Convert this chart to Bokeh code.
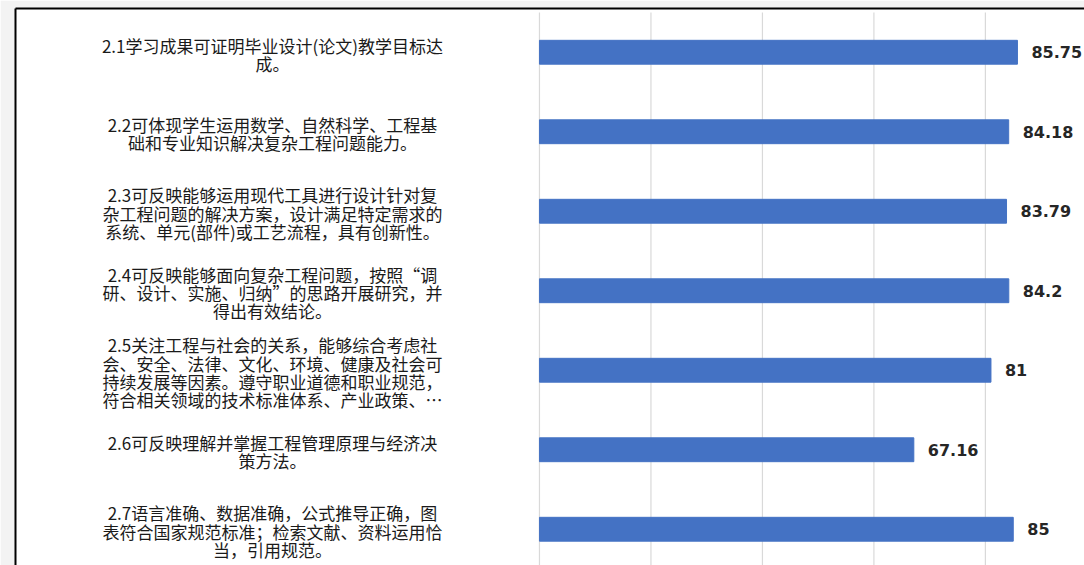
from bokeh.plotting import figure
from bokeh.models import Range1d, FixedTicker, ColumnDataSource
from bokeh.core.properties import value
from bokeh.embed import file_html
from bokeh.resources import INLINE

# ---- data ----
labels = [
    "2.1学习成果可证明毕业设计(论文)教学目标达\n成。",
    "2.2可体现学生运用数学、自然科学、工程基\n础和专业知识解决复杂工程问题能力。",
    "2.3可反映能够运用现代工具进行设计针对复\n杂工程问题的解决方案，设计满足特定需求的\n系统、单元(部件)或工艺流程，具有创新性。",
    "2.4可反映能够面向复杂工程问题，按照“调\n研、设计、实施、归纳”的思路开展研究，并\n得出有效结论。",
    "2.5关注工程与社会的关系，能够综合考虑社\n会、安全、法律、文化、环境、健康及社会可\n持续发展等因素。遵守职业道德和职业规范，\n符合相关领域的技术标准体系、产业政策、…",
    "2.6可反映理解并掌握工程管理原理与经济决\n策方法。",
    "2.7语言准确、数据准确，公式推导正确，图\n表符合国家规范标准；检索文献、资料运用恰\n当，引用规范。",
]
scores = [85.75, 84.18, 83.79, 84.2, 81.0, 67.16, 85.0]
grid_ticks = [0, 20, 40, 60, 80, 100]

pos = [i + 0.5 for i in range(len(labels))]
score_text = [f"{v:g}" for v in scores]
src = ColumnDataSource(dict(y=pos, score=scores, score_text=score_text, label=labels))

p = figure(
    width=1084, height=565,
    output_backend="svg", toolbar_location=None,
    x_range=Range1d(-94.0, 97.78),
    y_range=Range1d(6.956, -0.0503),
    x_axis_location="above", y_axis_location="left",
    min_border_left=15, min_border_top=8, min_border_right=0, min_border_bottom=0,
    border_fill_color="#f3f3f3", background_fill_color="white",
    outline_line_color=None,
)
p.grid.visible = False

for ax in (p.xaxis[0], p.yaxis[0]):
    ax.ticker = FixedTicker(ticks=[])
    ax.major_label_text_font_size = "0px"
    ax.major_tick_in = 0
    ax.major_tick_out = 0
    ax.minor_tick_in = 0
    ax.minor_tick_out = 0
    ax.major_label_standoff = 0
    ax.axis_line_color = "black"
    ax.axis_line_width = 2

# vertical gridlines (incl. zero line)
p.segment(x0=grid_ticks, y0=[0] * len(grid_ticks), x1=grid_ticks, y1=[8] * len(grid_ticks),
          line_color="#d9d9d9", line_width=1.2)

# bars
p.hbar(y="y", left=0, right="score", height=0.30, source=src,
       fill_color="#4472C4", line_color="#4472C4")

# value labels
p.text(x="score", y="y", text="score_text", source=src,
       x_offset=14, text_align="left", text_baseline="middle",
       text_font=value("DejaVu Sans"), text_font_style="bold",
       text_font_size="16px", text_color="#262626")

# category labels
p.text(x=-47.9, y="y", text="label", source=src,
       y_offset=2, text_align="center", text_baseline="middle",
       text_font=value("Noto Sans CJK SC"), text_font_size="17px",
       text_line_height=0.73, text_color="#1a1a1a")

open("out.html", "w").write(file_html(p, INLINE))
